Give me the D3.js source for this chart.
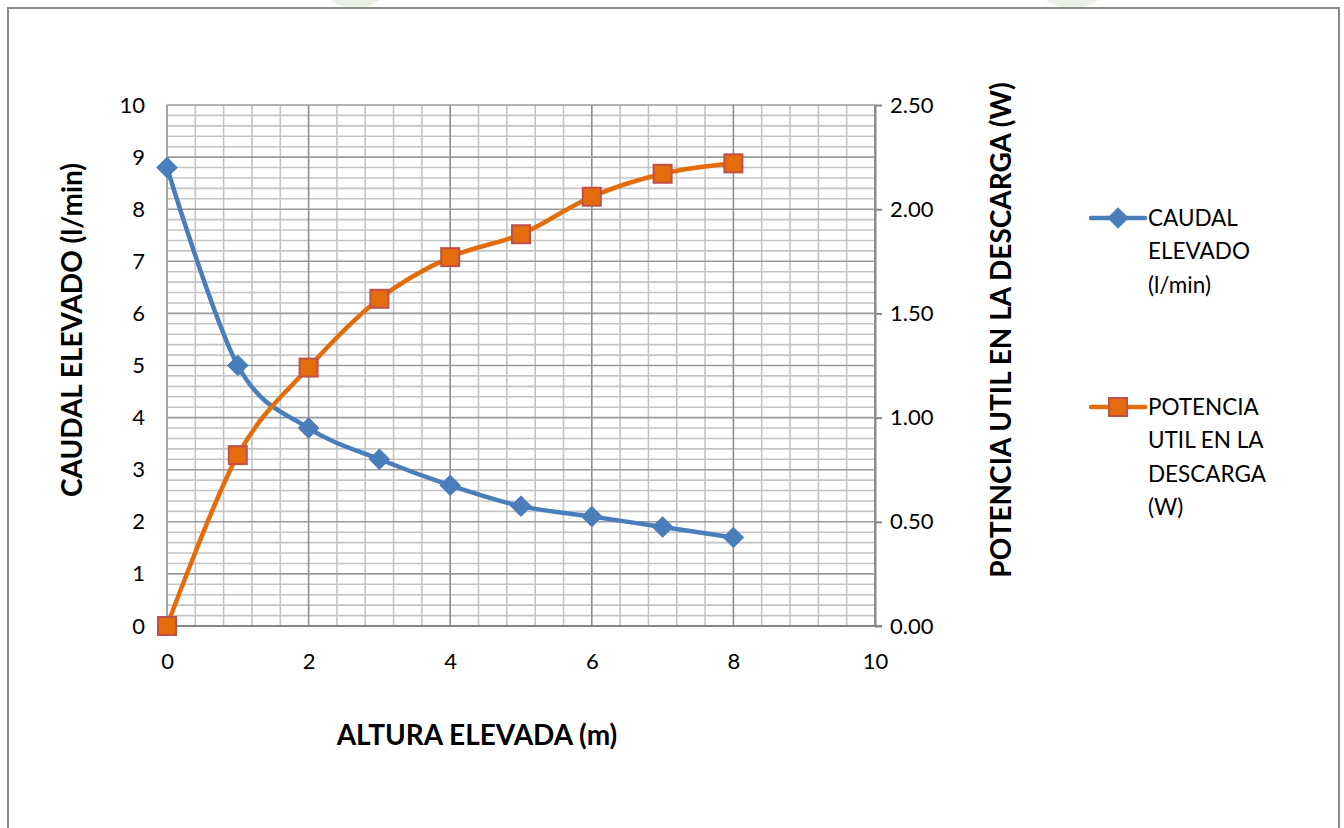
<!DOCTYPE html>
<html>
<head>
<meta charset="utf-8">
<script src="https://cdn.jsdelivr.net/npm/d3@7"></script>
<style>
  html, body { margin: 0; padding: 0; background: #ffffff; }
  svg { display: block; }
  text { font-family: Lato, "Open Sans", sans-serif; fill: #000; }
</style>
</head>
<body>
<svg id="chart" width="1344" height="828"></svg>
<script>
// Heights raised (m)
const alturas = [0, 1, 2, 3, 4, 5, 6, 7, 8];
// Flow raised (l/min) — left axis
const caudal = [8.8, 5.0, 3.8, 3.2, 2.7, 2.3, 2.1, 1.9, 1.7];
// Useful discharge power (W) — right axis
const potencia = [0, 0.82, 1.24, 1.57, 1.77, 1.88, 2.06, 2.17, 2.22];

const xTicks = [0, 2, 4, 6, 8, 10];
const yLeftTicks = [0, 1, 2, 3, 4, 5, 6, 7, 8, 9, 10];
const yRightTicks = [0, 0.5, 1.0, 1.5, 2.0, 2.5];

const legendCaudal = ["CAUDAL", "ELEVADO", "(l/min)"];
const legendPotencia = ["POTENCIA", "UTIL EN LA", "DESCARGA", "(W)"];

const svg = d3.select("#chart");

const plot = { left: 167, right: 875, top: 105, bottom: 626 };

const x = d3.scaleLinear().domain([0, 10]).range([plot.left, plot.right]);
const yL = d3.scaleLinear().domain([0, 10]).range([plot.bottom, plot.top]);
const yR = d3.scaleLinear().domain([0, 2.5]).range([plot.bottom, plot.top]);

const blue = "#4a7ebb";
const orange = "#e46c0a";
const orangeEdge = "#c0504d";

// faint decoration peeking above the frame
const deco = svg.append("g").attr("opacity", 0.25);
deco.append("ellipse").attr("cx", 355).attr("cy", -8).attr("rx", 28).attr("ry", 16).attr("fill", "#a9c29a");
deco.append("ellipse").attr("cx", 1072).attr("cy", -8).attr("rx", 30).attr("ry", 16).attr("fill", "#a9c29a");

// outer frame
svg.append("rect")
  .attr("x", 8).attr("y", 8)
  .attr("width", 1331).attr("height", 840)
  .attr("fill", "none")
  .attr("stroke", "#8a8a8a")
  .attr("stroke-width", 2);

// gridlines
const grid = svg.append("g");
const minorX = d3.range(0, 10.0001, 0.4).filter(v => Math.abs(v / 2 - Math.round(v / 2)) > 1e-6);
const minorY = d3.range(0, 10.0001, 0.2).filter(v => Math.abs(v - Math.round(v)) > 1e-6);

grid.selectAll(".mx").data(minorX).join("line")
  .attr("x1", d => x(d)).attr("x2", d => x(d))
  .attr("y1", plot.top).attr("y2", plot.bottom)
  .attr("stroke", "#c4c4c4").attr("stroke-width", 1.6);
grid.selectAll(".my").data(minorY).join("line")
  .attr("x1", plot.left).attr("x2", plot.right)
  .attr("y1", d => yL(d)).attr("y2", d => yL(d))
  .attr("stroke", "#c4c4c4").attr("stroke-width", 1.6);
grid.selectAll(".Mx").data(xTicks).join("line")
  .attr("x1", d => x(d)).attr("x2", d => x(d))
  .attr("y1", plot.top).attr("y2", plot.bottom)
  .attr("stroke", "#8e8e8e").attr("stroke-width", 1.6);
grid.selectAll(".My").data(yLeftTicks).join("line")
  .attr("x1", plot.left).attr("x2", plot.right)
  .attr("y1", d => yL(d)).attr("y2", d => yL(d))
  .attr("stroke", "#9a9a9a").attr("stroke-width", 1.6);

// left axis (labels only)
const leftAxis = svg.append("g")
  .attr("transform", `translate(${plot.left},0)`)
  .call(d3.axisLeft(yL).tickValues(yLeftTicks).tickSize(0).tickPadding(22).tickFormat(d3.format("d")));
leftAxis.select(".domain").remove();

// right axis
const rightAxis = svg.append("g")
  .attr("transform", `translate(${plot.right},0)`)
  .call(d3.axisRight(yR).tickValues(yRightTicks).tickSizeInner(7).tickSizeOuter(0).tickPadding(8).tickFormat(d3.format(".2f")));
rightAxis.select(".domain").attr("stroke", "#868686").attr("stroke-width", 2);
rightAxis.selectAll(".tick line").attr("stroke", "#868686").attr("stroke-width", 2);

// bottom axis
const bottomAxis = svg.append("g")
  .attr("transform", `translate(0,${plot.bottom})`)
  .call(d3.axisBottom(x).tickValues(xTicks).tickSize(0).tickPadding(27).tickFormat(d3.format("d")));
bottomAxis.select(".domain").attr("stroke", "#868686").attr("stroke-width", 2)
  .attr("d", `M${plot.left},0H${plot.right + 7}`);

svg.selectAll(".tick text")
  .style("font-family", "Lato, 'Open Sans', sans-serif")
  .style("font-size", "22px")
  .attr("fill", "#000");

// axis titles
svg.append("text")
  .attr("x", 477).attr("y", 745)
  .attr("text-anchor", "middle")
  .style("font-size", "28px").style("font-weight", "bold")
  .text("ALTURA ELEVADA (m)");

svg.append("text")
  .attr("transform", "translate(82,330) rotate(-90)")
  .attr("text-anchor", "middle")
  .style("font-size", "28px").style("font-weight", "bold")
  .text("CAUDAL ELEVADO (l/min)");

svg.append("text")
  .attr("transform", "translate(1011,330) rotate(-90)")
  .attr("text-anchor", "middle")
  .style("font-size", "28px").style("font-weight", "bold")
  .text("POTENCIA UTIL EN LA DESCARGA (W)");

// series
const lineCaudal = d3.line()
  .x((d, i) => x(alturas[i]))
  .y(d => yL(d))
  .curve(d3.curveCatmullRom.alpha(0));
const linePotencia = d3.line()
  .x((d, i) => x(alturas[i]))
  .y(d => yR(d))
  .curve(d3.curveCatmullRom.alpha(0));

const diamond = d3.symbol().type(d3.symbolDiamond2).size(270);

svg.append("path")
  .attr("d", lineCaudal(caudal))
  .attr("fill", "none").attr("stroke", blue)
  .attr("stroke-width", 4.5).attr("stroke-linejoin", "round").attr("stroke-linecap", "round");

svg.append("path")
  .attr("d", linePotencia(potencia))
  .attr("fill", "none").attr("stroke", orange)
  .attr("stroke-width", 4.5).attr("stroke-linejoin", "round").attr("stroke-linecap", "round");

svg.append("g").selectAll("path").data(caudal).join("path")
  .attr("transform", (d, i) => `translate(${x(alturas[i])},${yL(d)})`)
  .attr("d", diamond)
  .attr("fill", blue).attr("stroke", blue).attr("stroke-width", 1);

svg.append("g").selectAll("rect").data(potencia).join("rect")
  .attr("x", (d, i) => x(alturas[i]) - 9)
  .attr("y", d => yR(d) - 9)
  .attr("width", 18).attr("height", 18)
  .attr("fill", orange).attr("stroke", orangeEdge).attr("stroke-width", 2);

// legend
const legend = svg.append("g");
function legendEntry(yc, color, lines, marker) {
  legend.append("line")
    .attr("x1", 1091).attr("x2", 1145).attr("y1", yc).attr("y2", yc)
    .attr("stroke", color).attr("stroke-width", 4.5).attr("stroke-linecap", "round");
  if (marker === "diamond") {
    legend.append("path")
      .attr("transform", `translate(1118,${yc})`)
      .attr("d", diamond)
      .attr("fill", blue).attr("stroke", blue);
  } else {
    legend.append("rect")
      .attr("x", 1109).attr("y", yc - 9).attr("width", 18).attr("height", 18)
      .attr("fill", orange).attr("stroke", orangeEdge).attr("stroke-width", 2);
  }
  legend.append("g").selectAll("text").data(lines).join("text")
    .attr("x", 1148)
    .attr("y", (d, i) => yc + 8 + i * 33.3)
    .style("font-size", "22.5px")
    .text(d => d);
}
legendEntry(218, blue, legendCaudal, "diamond");
legendEntry(407, orange, legendPotencia, "square");
</script>
</body>
</html>
